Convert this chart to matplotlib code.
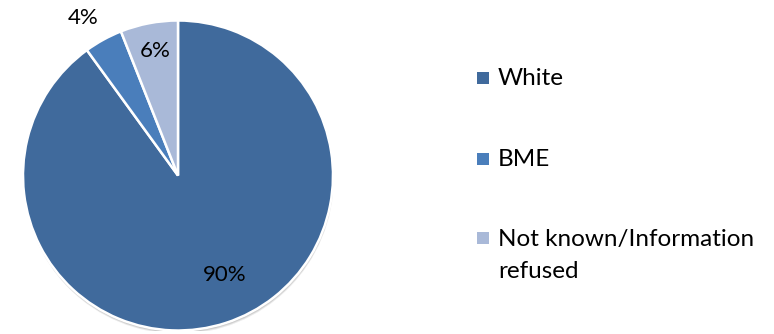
import matplotlib
matplotlib.use("Agg")
import matplotlib.pyplot as plt
import matplotlib.patches as mpatches
import numpy as np

categories = ["White", "BME", "Not known/Information\nrefused"]
values = [90, 4, 6]
pct_labels = ["90%", "4%", "6%"]
colors = ["#406A9C", "#4A7EBB", "#A9B9D8"]

plt.rcParams['font.family'] = ['Lato', 'DejaVu Sans']

fig = plt.figure(figsize=(7.74, 3.34), dpi=100)
W, H = 774, 334
cx, cy, r = 178, 175.5, 155
ax = fig.add_axes([(cx - r) / W, (H - cy - r) / H, 2 * r / W, 2 * r / H])

# soft shadow
for k, a in [(3.5, 0.08), (2.5, 0.10), (1.5, 0.12)]:
    ax.add_patch(mpatches.Circle((0.2 * k / r, -k / r), 1.0, facecolor='black',
                                 alpha=a, edgecolor='none', zorder=0))

wedges, _ = ax.pie(values, colors=colors, startangle=90, counterclock=False,
                   radius=1.0, wedgeprops=dict(edgecolor="white", linewidth=1.8, zorder=2))
ax.set_xlim(-1, 1)
ax.set_ylim(-1, 1)
ax.set_aspect('equal')

dists = [0.71, 1.185, 0.814]
ang_off = [7.3, 2.2, -0.3]
for w, lab, d, off in zip(wedges, pct_labels, dists, ang_off):
    ang = np.deg2rad((w.theta1 + w.theta2) / 2 + off)
    ax.text(d * np.cos(ang), d * np.sin(ang), lab, ha='center', va='center',
            fontsize=16, color='black', clip_on=False, zorder=5)

# legend
sq_cy = [78, 158.5, 238]
base_y = [85, 166, 246]
line_gap = 32
for c, lab, yc, yb in zip(colors, categories, sq_cy, base_y):
    fig.patches.append(mpatches.Rectangle((477 / W, 1 - (yc + 6) / H), 12 / W, 12 / H,
                                          transform=fig.transFigure, facecolor=c,
                                          edgecolor='none'))
    for i, line in enumerate(lab.split("\n")):
        fig.text(498 / W, 1 - (yb + i * line_gap) / H, line, ha='left', va='baseline',
                 fontsize=17.5, color='black')

fig.savefig("out.png", dpi=100, facecolor="white")
